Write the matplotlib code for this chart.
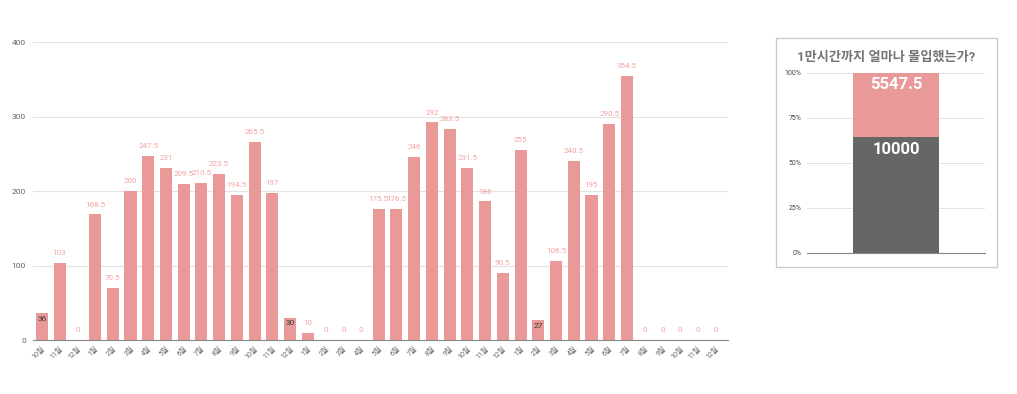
import matplotlib.pyplot as plt
from matplotlib.patches import Rectangle
from matplotlib.ticker import PercentFormatter

plt.rcParams["font.family"] = ["Roboto", "Noto Sans CJK KR", "DejaVu Sans"]

# monthly hours, Oct .. Dec three years later
months = [10, 11, 12] + list(range(1, 13)) * 3
hours = [
    36, 103, 0,
    168.5, 70.5, 200, 247.5, 231, 209.5, 210.5, 223.5, 194.5, 265.5, 197, 30,
    10, 0, 0, 0, 175.5, 176.5, 246, 292, 283.5, 231.5, 186, 90.5,
    255, 27, 106.5, 240.5, 195, 290.5, 354.5, 0, 0, 0, 0, 0,
]
month_labels = [f"{m}월" for m in months]

goal = 10000
total = sum(hours)

bar_color = "#ea9999"
label_color = "#f4a3a3"
grid_color = "#e2e2e2"
text_gray = "#666666"

fig = plt.figure(figsize=(10.17, 3.94), dpi=100)

# --- main monthly chart
ax = fig.add_axes([0.0324, 0.137, 0.6835, 0.7563])
x = list(range(len(hours)))
ax.bar(x, hours, width=0.68, color=bar_color, zorder=2)
for xi, v in zip(x, hours):
    txt = f"{v:g}"
    if 20 <= v < 60:
        ax.annotate(txt, (xi, v), xytext=(0, -2), textcoords="offset points",
                    ha="center", va="top", fontsize=6, color="#3a3a3a")
    else:
        ax.annotate(txt, (xi, v), xytext=(0, 5), textcoords="offset points",
                    ha="center", va="bottom", fontsize=5.8, color=label_color)

ax.set_ylim(0, 400)
ax.set_xlim(-0.5, len(hours) - 0.3)
ax.set_yticks([0, 100, 200, 300, 400])
ax.yaxis.grid(True, color=grid_color, linewidth=0.8, zorder=0)
ax.set_xticks(x)
ax.set_xticklabels(month_labels, rotation=45, ha="right", rotation_mode="anchor",
                   fontsize=5.2, color=text_gray)
ax.tick_params(axis="both", length=0)
ax.tick_params(axis="y", labelsize=6, labelcolor=text_gray, pad=5)
ax.tick_params(axis="x", pad=4)
for s in ["top", "right", "left"]:
    ax.spines[s].set_visible(False)
ax.spines["bottom"].set_color("#888888")

# --- side panel: 100% stacked bar
fig.patches.append(Rectangle((0.763, 0.3223), 0.2173, 0.5812, transform=fig.transFigure,
                             facecolor="white", edgecolor="#cccccc", linewidth=1,
                             zorder=-1))
fig.text(0.871, 0.855, "1만시간까지 얼마나 몰입했는가?", ha="center", va="center",
         fontsize=9.5, fontweight="bold", color="#757575")

ax2 = fig.add_axes([0.7935, 0.3579, 0.175, 0.4569])
ax2.patch.set_alpha(0)
g_frac = goal / (goal + total) * 100
t_frac = total / (goal + total) * 100
ax2.bar([0], [g_frac], width=0.48, color="#666666", zorder=2)
ax2.bar([0], [t_frac], bottom=[g_frac], width=0.48, color=bar_color, zorder=2)
ax2.text(0, g_frac - 2.5, f"{goal:g}", ha="center", va="top", fontsize=12,
         fontweight="bold", color="white", zorder=3)
ax2.text(0, 100 - 2.5, f"{total:g}", ha="center", va="top", fontsize=12,
         fontweight="bold", color="white", zorder=3)
ax2.set_xlim(-0.5, 0.5)
ax2.set_ylim(0, 100)
ax2.set_yticks([0, 25, 50, 75, 100])
ax2.yaxis.set_major_formatter(PercentFormatter(decimals=0))
ax2.yaxis.grid(True, color=grid_color, linewidth=0.7, zorder=0)
ax2.set_xticks([])
ax2.tick_params(axis="y", length=0, labelsize=5, labelcolor="#444444", pad=4)
for s in ["top", "right", "left"]:
    ax2.spines[s].set_visible(False)
ax2.spines["bottom"].set_color("#888888")

fig.savefig("out.png", dpi=100)
